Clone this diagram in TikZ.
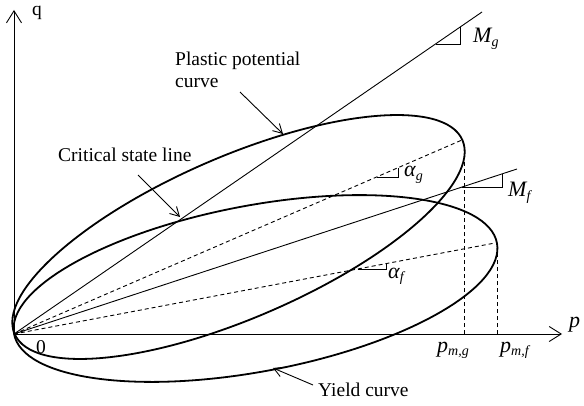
\documentclass[tikz,border=0pt]{standalone}
\usepackage{fontspec}
\setmainfont{Liberation Serif}
\usetikzlibrary{arrows.meta}
\newcommand{\mysub}[1]{\raisebox{-0.35ex}{\fontsize{14}{14}\selectfont\itshape #1}}
\begin{document}
\begin{tikzpicture}[x=1pt,y=1pt,
  lbl/.style={font=\fontsize{19.5}{22}\selectfont, inner sep=0pt},
  mlbl/.style={font=\fontsize{22}{24}\selectfont\itshape, inner sep=0pt},
  axisline/.style={line width=0.9pt, -{Straight Barb[length=12pt,width=15pt,line width=0.9pt]}},
  ell/.style={line width=1.8pt},
  guide/.style={line width=0.9pt},
  dline/.style={line width=0.9pt, dash pattern=on 4pt off 3pt},
  pointer/.style={line width=0.9pt, -{Straight Barb[length=9pt,width=10pt,line width=0.9pt]}},
]
\useasboundingbox (0,0) rectangle (584,405);
% axes
\coordinate (O) at (14,71);
\coordinate (qend) at (14,395);
\coordinate (pend) at (562,71);
\draw[axisline] (O) -- (qend);
\draw[axisline] (O) -- (pend);
% ellipses
\draw[ell] (238.5,168) circle[x radius=244pt, y radius=80.7pt, rotate=23.4];
\draw[ell] (255.5,116.5) circle[x radius=245.7pt, y radius=83pt, rotate=10.67];
% critical state lines
\coordinate (Mgend) at (482,393);
\coordinate (Mfend) at (517,236);
\draw[guide] (O) -- (Mgend);
\draw[guide] (O) -- (Mfend);
% dashed axes of ellipses
\coordinate (ag) at (462,265);
\coordinate (af) at (495,162);
\draw[dline] (O) -- (ag);
\draw[dline] (O) -- (af);
% vertical dashed lines
\coordinate (pmg) at (464,71);
\coordinate (pmgt) at (464,252);
\coordinate (pmf) at (497,71);
\coordinate (pmft) at (497,157);
\draw[dline] (pmg) -- (pmgt);
\draw[dline] (pmf) -- (pmft);
% slope triangles
\draw[guide] (435.5,361) -- (460,361) -- (460,377.9);
\draw[guide] (462,218) -- (502,218) -- (502,231);
\draw[guide] (376.6,228) -- (398,228) -- (398,237.3);
\draw[guide] (358,136) -- (386,136) -- (386,141.3);
% labels
\node[lbl, anchor=base west] (q) at (32,389) {q};
\node[mlbl, anchor=base west] (p) at (569,78) {p};
\node[lbl, anchor=base] (zero) at (41,52) {0};
\node[mlbl, anchor=base west] (pmglbl) at (437,53) {p\mysub{m,g}};
\node[mlbl, anchor=base west] (pmflbl) at (500,53) {p\mysub{m,f}};
\node[mlbl, anchor=base west] (Mg) at (473,362) {M\mysub{g}};
\node[mlbl, anchor=base west] (Mf) at (508,208) {M\mysub{f}};
\node[mlbl, anchor=base west] (alg) at (404,228) {α\mysub{g}};
\node[mlbl, anchor=base west] (alf) at (388,127) {α\mysub{f}};
\node[lbl, anchor=base west] (pp1) at (175,339) {Plastic potential};
\node[lbl, anchor=base west] (pp2) at (175,317) {curve};
\node[lbl, anchor=base west] (csl) at (58,243) {Critical state line};
\node[lbl, anchor=base west] (yc) at (318,9) {Yield curve};
% pointers
\coordinate (ppS) at (240,313);
\coordinate (ppT) at (283,271);
\coordinate (cslS) at (138,230);
\coordinate (cslT) at (180,188);
\coordinate (ycS) at (313,20);
\coordinate (ycT) at (273,37);
\draw[pointer] (ppS) -- (ppT);
\draw[pointer] (cslS) -- (cslT);
\draw[pointer] (ycS) -- (ycT);
\end{tikzpicture}
\end{document}
